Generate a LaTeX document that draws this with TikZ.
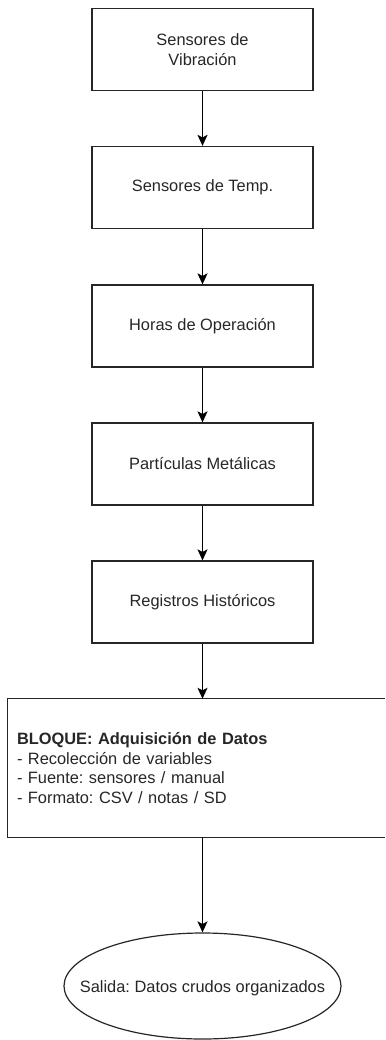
\documentclass[tikz,border=0pt]{standalone}
\usepackage{fontspec}
\setmainfont{Liberation Sans}
\usetikzlibrary{arrows.meta,shapes.geometric}
\frenchspacing
\begin{document}
\begin{tikzpicture}[x=1pt,y=-1pt,
  txt/.style={font=\fontsize{16.4}{19.4}\selectfont, text=black!85},
  edge/.style={draw=black!85, line width=1.2pt},
  stepbox/.style={txt, edge, minimum width=221pt, minimum height=82pt, align=center, inner sep=0pt},
  conn/.style={draw=black, line width=1.2pt, -{Stealth[length=11pt,width=10pt,inset=2.5pt]}}]
\useasboundingbox (0,0) rectangle (385,1040);
\node[stepbox] (b1) at (202.5,49.5) {Sensores de\\Vibración};
\node[stepbox] (b2) at (202.5,187.5) {Sensores de Temp.};
\node[stepbox] (b3) at (202.5,326) {Horas de Operación};
\node[stepbox] (b4) at (202.5,464) {Partículas Metálicas};
\node[stepbox] (b5) at (202.5,602) {Registros Históricos};
\node[txt, minimum width=377pt, minimum height=138pt,
      text width=359pt, inner xsep=9pt, inner ysep=0pt, align=left] (blk) at (196.5,768)
  {\textbf{BLOQUE: Adquisición de Datos}\\- Recolección de variables\\- Fuente: sensores / manual\\- Formato: CSV / notas / SD};
\draw[edge] (blk.north east) -- (blk.north west) -- (blk.south west) -- (blk.south east);
\node[edge, ellipse, minimum width=277pt, minimum height=106pt, inner sep=0pt] (out) at (202.5,986) {};
\node[txt] (outtxt) at (202.5,988) {Salida: Datos crudos organizados};
\draw[conn] (b1) -- (b2);
\draw[conn] (b2) -- (b3);
\draw[conn] (b3) -- (b4);
\draw[conn] (b4) -- (b5);
\draw[conn] (b5.south) -- (b5.south |- blk.north);
\draw[conn] (out.north |- blk.south) -- (out.north);
\end{tikzpicture}
\end{document}
